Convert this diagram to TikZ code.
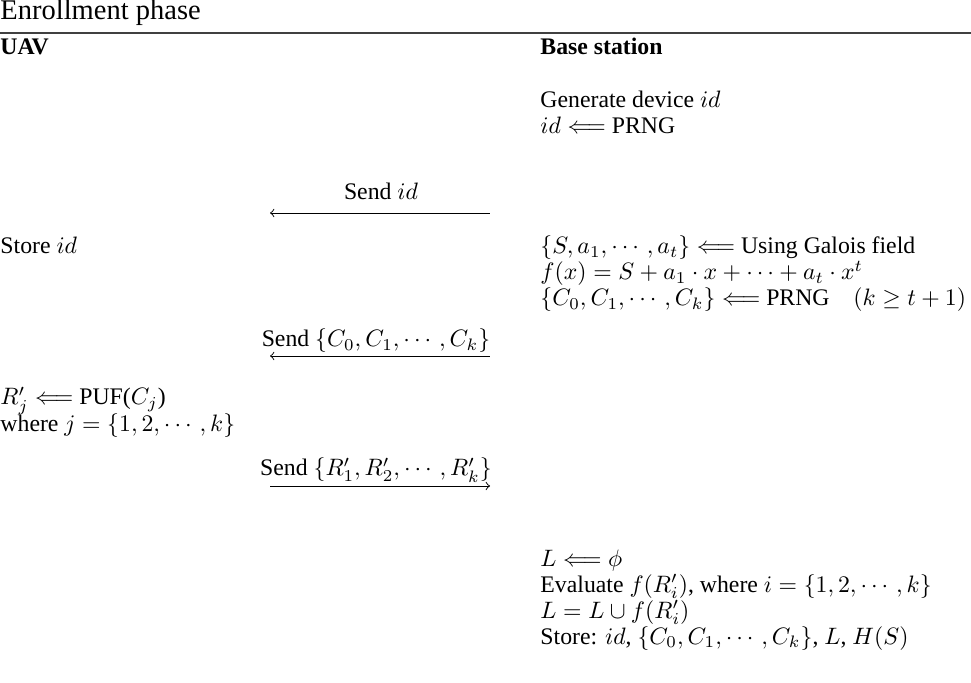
\documentclass[tikz,border=0pt]{standalone}
\usepackage{amsmath,amssymb}
\usepackage[no-math]{fontspec}
\setmainfont{Liberation Serif}
\begin{document}
\begin{tikzpicture}[x=0.421pt, y=-0.421pt,
        txt/.style = {anchor=base west, inner sep=0pt},
        msg/.style = {anchor=base, inner sep=0pt},
        hd/.style = {txt, font=\bfseries}]
        \useasboundingbox (0,0) rectangle (971,683);
        \node[txt, font=\large] (title) at (0,20) {Enrollment phase};
        \draw[line width=0.8pt, black!75] (0,33) -- (971,33);
        \node[hd] (uav) at (0,55) {UAV};
        \node[hd] (bs) at (540,55) {Base station};
        %
        \node[txt] (gen) at (540,108) {Generate device $id$};
        \node[txt] (prng) at (540,134) {$id \Longleftarrow$ PRNG};
        \coordinate (a1r) at (490,213);
        \coordinate (a1l) at (270,213);
        \node[msg] (m1) at (381,200) {Send $id$};
        \draw[<-] (a1l) -- (a1r);
        %
        \node[txt] (store) at (0,254) {Store $id$};
        \node[txt] (gf) at (540,254) {$\{S, a_1, \cdots, a_t\} \Longleftarrow$ Using Galois field};
        \node[txt] (poly) at (540,280) {$f(x) = S + a_1\cdot x + \cdots + a_t\cdot x^t$};
        \node[txt] (chal) at (540,306) {$\{C_0, C_1, \cdots, C_k\} \Longleftarrow$ PRNG\quad $(k \geq t+1)$};
        \coordinate (a2r) at (490,356);
        \coordinate (a2l) at (270,356);
        \node[msg] (m2) at (376,347) {Send $\{C_0, C_1, \cdots, C_k\}$};
        \draw[<-] (a2l) -- (a2r);
        %
        \node[txt] (puf) at (0,405) {$R'_j \Longleftarrow$ PUF($C_j$)};
        \node[txt] (where) at (0,432) {where $j = \{1, 2, \cdots, k\}$};
        \coordinate (a3l) at (270,486);
        \coordinate (a3r) at (490,486);
        \node[msg] (m3) at (376,476) {Send $\{R'_1, R'_2, \cdots, R'_k\}$};
        \draw[->] (a3l) -- (a3r);
        %
        \node[txt] (init) at (540,566) {$L \Longleftarrow \phi$};
        \node[txt] (eval) at (540,592) {Evaluate $f(R'_i)$, where $i = \{1, 2, \cdots, k\}$};
        \node[txt] (union) at (540,618) {$L = L \cup f(R'_i)$};
        \node[txt] (keep) at (540,644) {Store: $id$, $\{C_0, C_1, \cdots, C_k\}$, $L$, $H(S)$};
      \end{tikzpicture}
\end{document}
